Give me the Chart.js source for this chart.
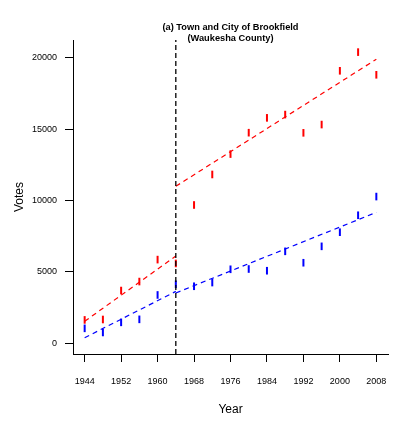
<!DOCTYPE html>
<html>
<head>
<meta charset="utf-8">
<script src="https://cdn.jsdelivr.net/npm/chart.js@4.4.1/dist/chart.umd.min.js"></script>
<style>
  html, body { margin:0; padding:0; background:#ffffff; }
  #wrap { width:396px; height:426px; }
</style>
</head>
<body>
<div id="wrap"><canvas id="votesChart" width="396" height="426"></canvas></div>
<script>
/* =====================================================
   DATA
===================================================== */

const years = [
  1944,1948,1952,1956,1960,1964,1968,1972,1976,
  1980,1984,1988,1992,1996,2000,2004,2008
];

const redVotes = [
  1620,1650,3680,4310,5850,5580,9680,11820,13250,
  14750,15790,16020,14740,15320,19090,20400,18810
];

const blueVotes = [
  1030,740,1450,1660,3370,4120,3980,4240,5170,
  5190,5070,6430,5630,6780,7770,8960,10270
];

// fitted lines, value at start and end of each period
const breakYear = 1964;
const periodBefore = [1944, 1964];
const periodAfter = [1964, 2008];
const redFitBefore = [1520, 6100];
const redFitAfter = [10990, 19900];
const blueFitBefore = [370, 3620];
const blueFitAfter = [3510, 9160];

const xTicks = [1944,1952,1960,1968,1976,1984,1992,2000,2008];
const yTicks = [0,5000,10000,15000,20000];

const xMin = 1941.44, xMax = 2010.56;
const yMin = -770, yMax = 21250;


/* =====================================================
   CHART
===================================================== */

Chart.defaults.font.family = "'Liberation Sans', Arial, sans-serif";
Chart.defaults.color = "#000000";

function points(xs, ys){
  return xs.map((x, i) => ({ x: x, y: ys[i] }));
}

function marks(values, color){
  return {
    type: "scatter",
    data: points(years, values),
    pointStyle: "line",
    rotation: 90,
    pointRadius: 3.8,
    pointHoverRadius: 3.8,
    borderWidth: 2,
    borderColor: color,
    backgroundColor: color
  };
}

function fitLine(xs, values, color){
  return {
    type: "line",
    data: points(xs, values),
    borderColor: color,
    borderWidth: 1.2,
    borderDash: [5, 4],
    pointRadius: 0,
    fill: false,
    tension: 0
  };
}

// keep the plot box fixed, whatever the label widths are
function fixBox(size){
  return scale => {
    if (scale.isHorizontal()) scale.height = size;
    else scale.width = size;
    scale.paddingLeft = 0;
    scale.paddingRight = 0;
    scale.paddingTop = 0;
    scale.paddingBottom = 0;
  };
}

const ctx = document.getElementById("votesChart").getContext("2d");

new Chart(ctx, {
  data: {
    datasets: [
      {
        type: "line",
        data: points([breakYear, breakYear], [yMin, yMax]),
        borderColor: "#000000",
        borderWidth: 1.3,
        borderDash: [5, 3],
        pointRadius: 0,
        fill: false
      },
      fitLine(periodBefore, redFitBefore, "#ff0000"),
      fitLine(periodAfter, redFitAfter, "#ff0000"),
      fitLine(periodBefore, blueFitBefore, "#0000ff"),
      fitLine(periodAfter, blueFitAfter, "#0000ff"),
      marks(redVotes, "#ff0000"),
      marks(blueVotes, "#0000ff")
    ]
  },
  options: {
    responsive: false,
    devicePixelRatio: 1,
    animation: false,
    layout: {
      padding: { left: 0, right: 8, top: 0, bottom: 0 }
    },
    plugins: {
      legend: { display: false },
      tooltip: { enabled: false },
      title: {
        display: true,
        fullSize: false,
        text: ["(a) Town and City of Brookfield", "(Waukesha County)"],
        color: "#000000",
        font: { size: 9.25, weight: "bold", lineHeight: 1.2 },
        padding: { top: 22, bottom: -4.2 }
      }
    },
    scales: {
      x: {
        type: "linear",
        position: "bottom",
        min: xMin,
        max: xMax,
        afterBuildTicks: scale => {
          scale.ticks = xTicks.map(v => ({ value: v }));
        },
        afterFit: fixBox(72),
        ticks: {
          font: { size: 9 },
          color: "#000000",
          padding: 14,
          maxRotation: 0,
          autoSkip: false,
          callback: v => String(v)
        },
        grid: {
          drawOnChartArea: false,
          drawTicks: true,
          tickLength: 8,
          tickColor: "#000000",
          tickWidth: 1
        },
        border: { display: true, color: "#000000", width: 1 },
        title: {
          display: true,
          text: "Year",
          color: "#000000",
          font: { size: 12 },
          padding: { top: 0, bottom: 9 }
        }
      },
      y: {
        type: "linear",
        position: "left",
        min: yMin,
        max: yMax,
        afterBuildTicks: scale => {
          scale.ticks = yTicks.map(v => ({ value: v }));
        },
        afterFit: fixBox(73),
        ticks: {
          font: { size: 9 },
          color: "#000000",
          padding: 8,
          callback: v => String(v)
        },
        grid: {
          drawOnChartArea: false,
          drawTicks: true,
          tickLength: 8,
          tickColor: "#000000",
          tickWidth: 1
        },
        border: { display: true, color: "#000000", width: 1 },
        title: {
          display: true,
          text: "Votes",
          color: "#000000",
          font: { size: 12 },
          padding: { top: 12, bottom: 0 }
        }
      }
    }
  }
});
</script>
</body>
</html>
